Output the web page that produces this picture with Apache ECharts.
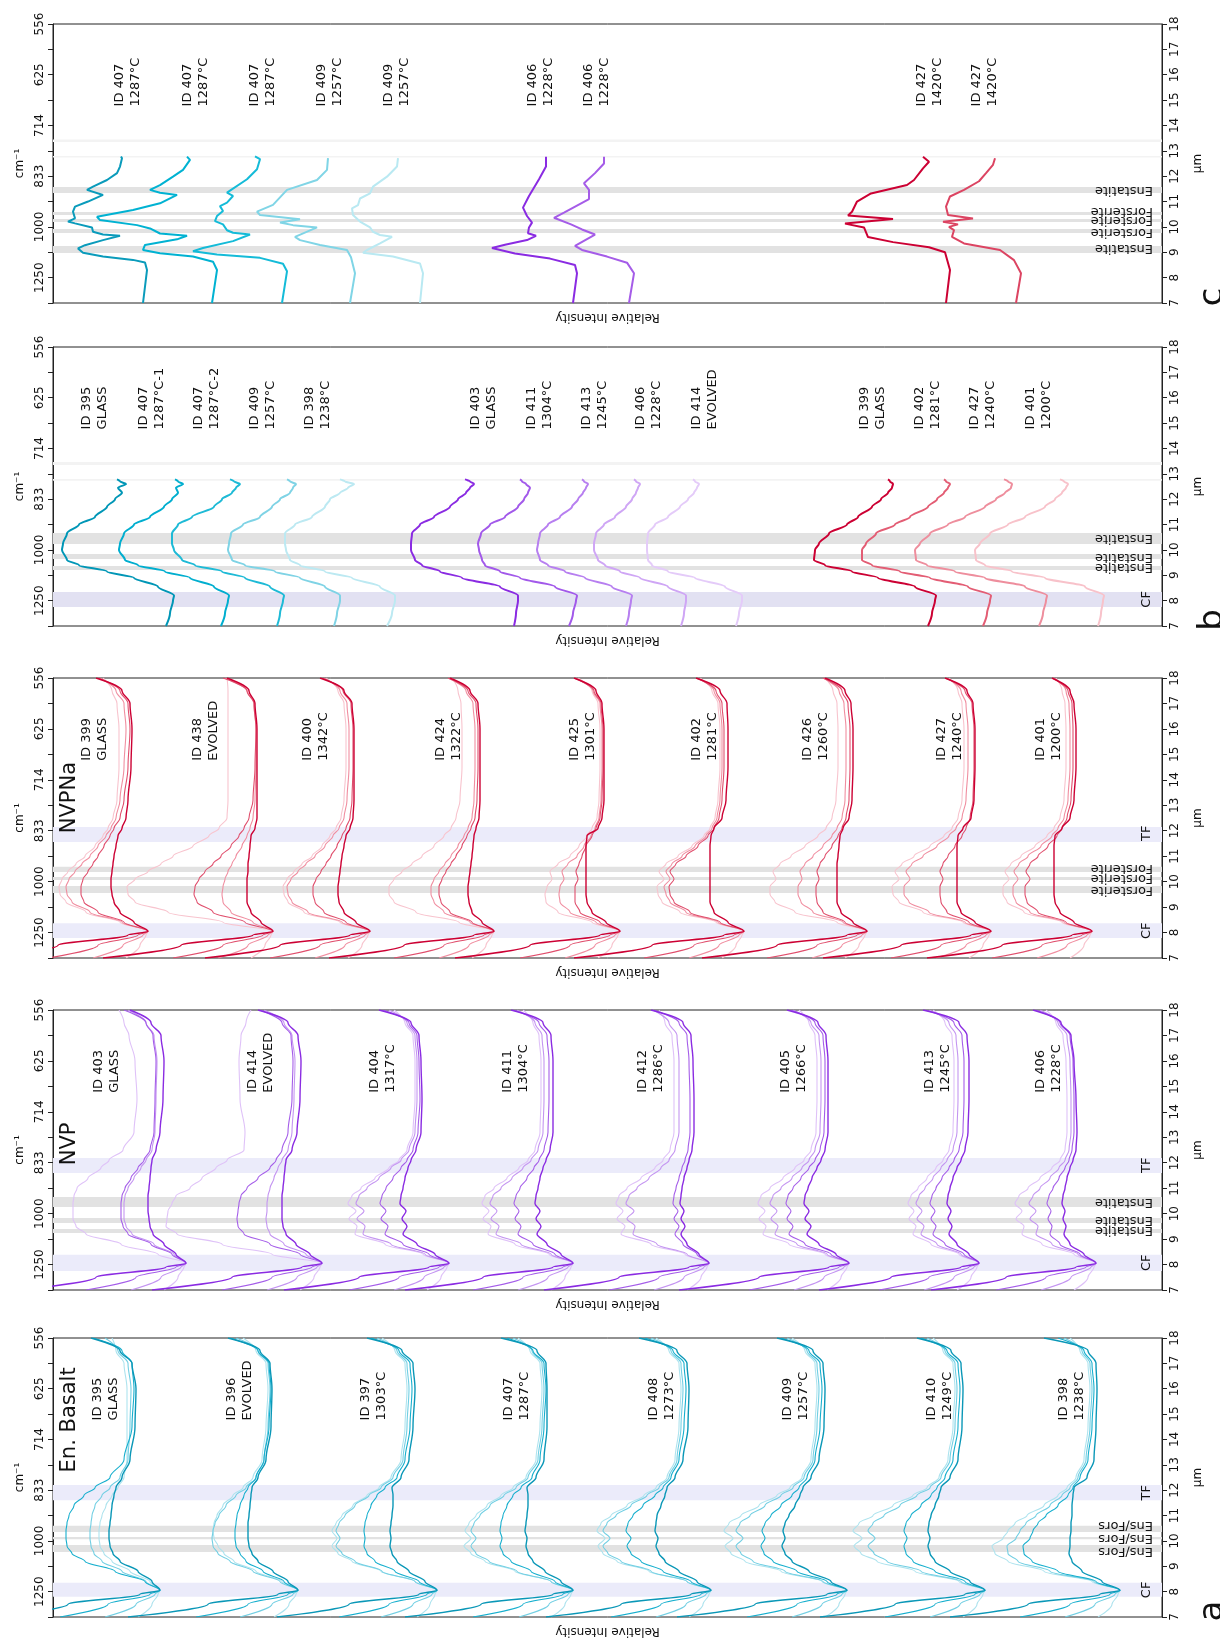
<!DOCTYPE html>
<html><head><meta charset="utf-8">
<script src="https://cdn.jsdelivr.net/npm/echarts@6.0.0/dist/echarts.min.js"></script>
<style>html,body{margin:0;padding:0;background:#fff}#chart{width:1220px;height:1641px}</style>
</head><body><div id="chart"></div>
<script>
// ---------- wavelength grids (µm) ----------
const WA = [7.0,7.5,7.9,8.05,8.4,8.8,9.2,9.5,9.8,10.1,10.4,10.7,11.0,11.4,11.8,12.1,12.5,13.2,14.5,16.0,17.0,17.5,18.0];
const WB = [7.0,7.5,8.0,8.2,8.55,8.9,9.15,9.4,9.6,10.0,10.25,10.65,11.0,11.3,11.7,12.0,12.25,12.45,12.6,12.7,12.78];
const CM_LABELS = {8:'1250',10:'1000',12:'833',14:'714',16:'625',18:'556'};

// ---------- panel a : En. Basalt (offsets from each group's CF peak; rows: dark, medium, light, lightest) ----------
const EN_CF = [107,245,384,520,658,794,932,1067];
const EN_IDS = [['ID 395','GLASS'],['ID 396','EVOLVED'],['ID 397','1303°C'],['ID 407','1287°C'],['ID 408','1273°C'],['ID 409','1257°C'],['ID 410','1249°C'],['ID 398','1238°C']];
const EN_LABEL_X = [53,187,321,464,609,743,887,1019];
const EN_395 = [[-165,-92,-20,0,-8,-22,-40,-47,-50,-51,-51,-50,-49,-48,-46,-44,-38,-30,-25,-24,-28,-40,-69],[-100,-52,-10,0,-15,-45,-75,-88,-93,-94,-94,-93,-91,-86,-76,-65,-50,-36,-28,-26,-28,-38,-67],[-55,-24,-5,0,-14,-38,-58,-66,-69,-70,-70,-69,-68,-65,-58,-50,-40,-32,-30,-29,-32,-42,-55],[-22,-8,-2,0,-10,-30,-48,-56,-60,-61,-61,-60,-58,-54,-48,-42,-36,-33,-33,-33,-36,-44,-48]];
const EN_396 = [[-170,-90,-20,0,-10,-25,-40,-46,-49,-50,-50,-50,-49,-48,-47,-46,-40,-32,-27,-26,-28,-38,-70],[-102,-50,-10,0,-14,-35,-52,-58,-62,-63,-63,-62,-61,-58,-54,-50,-42,-34,-29,-27,-29,-40,-68],[-58,-26,-5,0,-18,-45,-68,-80,-85,-86,-85,-83,-79,-72,-62,-52,-42,-34,-30,-28,-30,-40,-62],[-24,-9,-2,0,-16,-42,-64,-74,-80,-84,-85,-84,-81,-75,-65,-55,-45,-36,-32,-30,-32,-42,-55]];
const EN_397 = [[-160,-88,-18,0,-12,-28,-40,-45,-47,-46,-47,-46,-45,-44,-44,-45,-36,-28,-24,-22,-24,-35,-70],[-98,-48,-10,0,-18,-42,-62,-70,-73,-72,-73,-72,-70,-66,-60,-52,-40,-32,-27,-25,-27,-38,-66],[-56,-24,-5,0,-22,-55,-82,-95,-101,-97,-101,-98,-92,-82,-68,-56,-44,-34,-30,-28,-30,-40,-60],[-20,-7,-2,0,-22,-56,-85,-99,-105,-100,-105,-101,-95,-84,-70,-58,-46,-36,-32,-30,-32,-42,-55]];
const EN_407 = [[-168,-92,-20,0,-12,-28,-40,-45,-47,-46,-48,-47,-46,-45,-45,-46,-37,-29,-26,-26,-27,-36,-72],[-100,-50,-10,0,-18,-42,-62,-70,-73,-71,-73,-72,-70,-66,-60,-52,-41,-33,-29,-27,-29,-40,-66],[-54,-24,-5,0,-22,-56,-84,-97,-102,-97,-102,-99,-93,-83,-69,-57,-45,-35,-31,-29,-31,-41,-60],[-22,-8,-2,0,-22,-58,-88,-102,-109,-102,-108,-104,-97,-86,-72,-60,-47,-37,-33,-31,-33,-43,-55]];
const EN_408 = [[-165,-90,-20,0,-14,-32,-46,-52,-55,-53,-56,-55,-54,-50,-46,-44,-36,-28,-23,-22,-24,-34,-72],[-100,-50,-10,0,-20,-48,-70,-80,-84,-80,-85,-83,-78,-68,-56,-48,-40,-32,-27,-25,-27,-38,-66],[-55,-25,-5,0,-24,-60,-90,-103,-108,-101,-108,-104,-95,-80,-64,-52,-42,-34,-30,-28,-30,-40,-60],[-22,-8,-2,0,-24,-62,-94,-108,-113,-106,-114,-110,-100,-84,-67,-55,-44,-36,-32,-30,-32,-42,-55]];
const EN_409 = [[-170,-92,-20,0,-16,-38,-55,-62,-65,-62,-64,-62,-58,-52,-47,-44,-36,-28,-23,-22,-24,-34,-70],[-100,-50,-10,0,-20,-50,-74,-83,-86,-82,-85,-82,-76,-66,-55,-48,-40,-32,-27,-25,-27,-38,-66],[-55,-25,-5,0,-24,-62,-94,-106,-111,-104,-111,-107,-97,-82,-66,-54,-43,-34,-30,-28,-30,-40,-60],[-22,-8,-2,0,-25,-66,-102,-116,-122,-114,-123,-118,-106,-88,-70,-57,-45,-36,-32,-30,-32,-42,-55]];
const EN_410 = [[-165,-90,-20,0,-15,-35,-50,-55,-57,-55,-57,-56,-54,-50,-46,-44,-35,-27,-23,-22,-24,-34,-68],[-100,-50,-10,0,-20,-50,-72,-79,-81,-78,-81,-79,-74,-64,-54,-48,-40,-32,-27,-25,-27,-38,-64],[-55,-25,-5,0,-24,-64,-98,-111,-117,-110,-117,-112,-101,-85,-68,-55,-44,-35,-30,-28,-30,-40,-58],[-22,-8,-2,0,-26,-70,-108,-124,-131,-123,-132,-126,-112,-92,-72,-58,-46,-37,-32,-30,-32,-42,-52]];
const EN_398 = [[-170,-92,-20,0,-18,-38,-48,-51,-50,-50,-49,-49,-48,-48,-47,-46,-33,-26,-24,-23,-24,-32,-76],[-100,-50,-10,0,-24,-62,-88,-96,-97,-90,-87,-82,-74,-62,-52,-47,-40,-32,-28,-26,-28,-36,-62],[-55,-25,-5,0,-26,-70,-102,-112,-113,-104,-100,-94,-84,-70,-58,-50,-42,-34,-30,-28,-30,-38,-56],[-22,-8,-2,0,-28,-76,-112,-125,-128,-117,-112,-105,-93,-76,-62,-53,-44,-36,-32,-30,-32,-40,-50]];

// ---------- panel a : NVP ----------
const NVP_CF = [133,269,396,520,656,796,926,1043];
const NVP_IDS = [['ID 403','GLASS'],['ID 414','EVOLVED'],['ID 404','1317°C'],['ID 411','1304°C'],['ID 412','1286°C'],['ID 405','1266°C'],['ID 413','1245°C'],['ID 406','1228°C']];
const NVP_LABEL_X = [54,208,330,463,598,741,885,996];
const NVP_403 = [[-165,-90,-20,0,-10,-22,-33,-36,-37,-38,-38,-38,-37,-36,-35,-34,-30,-26,-23,-22,-25,-35,-56],[-100,-50,-10,0,-14,-35,-58,-63,-65,-65,-65,-64,-61,-55,-48,-42,-36,-32,-31,-30,-33,-40,-62],[-55,-25,-5,0,-12,-32,-54,-60,-62,-62,-62,-61,-58,-52,-45,-40,-34,-31,-30,-29,-32,-40,-58],[-22,-8,-2,0,-28,-65,-100,-110,-113,-113,-113,-112,-109,-98,-85,-77,-63,-52,-49,-51,-57,-62,-67]];
const NVP_414 = [[-170,-90,-20,0,-12,-26,-36,-39,-40,-40,-40,-40,-39,-38,-37,-36,-30,-25,-22,-21,-24,-34,-64],[-100,-50,-10,0,-22,-52,-78,-84,-85,-84,-83,-81,-75,-64,-52,-46,-40,-34,-30,-29,-31,-40,-62],[-55,-25,-5,0,-16,-38,-52,-55,-56,-55,-55,-54,-52,-48,-44,-40,-34,-30,-28,-27,-30,-38,-58],[-22,-8,-2,0,-50,-100,-145,-156,-155,-154,-150,-146,-132,-120,-106,-95,-78,-77,-82,-83,-81,-76,-71]];
const NVP_404 = [[-165,-90,-20,0,-14,-32,-46,-42,-47,-43,-49,-48,-46,-44,-41,-38,-33,-28,-27,-28,-30,-38,-70],[-100,-50,-10,0,-20,-46,-64,-61,-68,-63,-69,-67,-63,-56,-48,-42,-36,-31,-29,-30,-32,-40,-66],[-55,-25,-5,0,-24,-58,-86,-84,-92,-85,-93,-90,-82,-70,-58,-48,-40,-34,-32,-32,-34,-42,-60],[-22,-8,-2,0,-26,-64,-94,-92,-100,-93,-101,-97,-88,-74,-60,-50,-42,-36,-34,-34,-36,-44,-55]];
const NVP_411 = [[-168,-90,-20,0,-12,-26,-36,-32,-37,-33,-38,-37,-35,-33,-30,-27,-23,-20,-20,-20,-22,-30,-62],[-100,-50,-10,0,-18,-40,-55,-52,-58,-54,-59,-57,-53,-46,-39,-34,-29,-25,-24,-24,-26,-34,-60],[-55,-25,-5,0,-22,-52,-77,-74,-82,-76,-83,-80,-72,-61,-50,-42,-35,-30,-29,-29,-31,-38,-56],[-22,-8,-2,0,-24,-58,-85,-82,-90,-84,-91,-88,-79,-66,-54,-45,-38,-33,-32,-32,-34,-40,-50]];
const NVP_412 = [[-165,-90,-20,0,-10,-22,-28,-24,-28,-25,-29,-28,-27,-25,-22,-20,-17,-15,-15,-16,-18,-26,-58],[-100,-50,-10,0,-12,-26,-34,-30,-35,-31,-36,-35,-33,-30,-27,-24,-21,-19,-19,-20,-22,-30,-56],[-55,-25,-5,0,-22,-52,-76,-74,-82,-75,-83,-80,-72,-60,-48,-40,-34,-30,-30,-30,-32,-40,-56],[-22,-8,-2,0,-24,-58,-88,-84,-92,-86,-93,-90,-82,-68,-54,-46,-39,-35,-35,-35,-37,-44,-50]];
const NVP_405 = [[-170,-90,-20,0,-13,-30,-42,-38,-44,-40,-45,-44,-41,-37,-32,-28,-24,-21,-21,-21,-23,-31,-62],[-100,-50,-10,0,-18,-44,-60,-56,-62,-58,-63,-61,-56,-48,-40,-34,-29,-25,-24,-24,-26,-34,-58],[-55,-25,-5,0,-22,-52,-74,-71,-78,-72,-79,-76,-68,-57,-47,-40,-34,-29,-28,-28,-30,-38,-56],[-22,-8,-2,0,-24,-60,-86,-83,-90,-84,-91,-88,-79,-66,-54,-45,-38,-33,-32,-32,-34,-40,-50]];
const NVP_413 = [[-160,-88,-18,0,-10,-22,-30,-27,-31,-28,-32,-31,-29,-26,-22,-18,-14,-11,-10,-10,-12,-20,-56],[-100,-50,-10,0,-15,-34,-46,-43,-48,-44,-49,-47,-43,-37,-30,-25,-20,-16,-15,-15,-17,-25,-54],[-55,-25,-5,0,-18,-42,-58,-55,-62,-57,-63,-60,-54,-46,-38,-32,-26,-22,-21,-21,-23,-30,-50],[-22,-8,-2,0,-20,-48,-66,-63,-70,-65,-71,-68,-61,-52,-43,-36,-30,-26,-25,-25,-27,-34,-46]];
const NVP_406 = [[-165,-90,-20,0,-12,-26,-32,-30,-33,-31,-34,-33,-31,-29,-26,-23,-20,-19,-20,-22,-25,-35,-63],[-100,-50,-10,0,-16,-36,-46,-44,-48,-45,-49,-47,-43,-37,-31,-27,-24,-22,-22,-23,-26,-36,-60],[-55,-25,-5,0,-18,-44,-60,-58,-66,-60,-67,-63,-56,-46,-37,-31,-27,-25,-25,-26,-29,-38,-56],[-22,-8,-2,0,-22,-54,-74,-72,-80,-74,-81,-77,-68,-56,-44,-36,-31,-29,-29,-30,-33,-40,-50]];

// ---------- panel a : NVPNa ----------
const NA_CF = [95,220,317,441,567,691,814,938,1039];
const NA_IDS = [['ID 399','GLASS'],['ID 438','EVOLVED'],['ID 400','1342°C'],['ID 424','1322°C'],['ID 425','1301°C'],['ID 402','1281°C'],['ID 426','1260°C'],['ID 427','1240°C'],['ID 401','1200°C']];
const NA_LABEL_X = [42,153,263,396,530,652,763,897,996];
const NA_399 = [[-165,-90,-20,0,-14,-28,-34,-36,-37,-37,-36,-35,-34,-32,-30,-26,-22,-20,-17,-16,-18,-26,-52],[-100,-50,-10,0,-24,-50,-64,-67,-67,-65,-60,-55,-50,-44,-38,-34,-28,-24,-20,-18,-20,-28,-50],[-55,-25,-5,0,-26,-58,-76,-81,-82,-79,-73,-66,-58,-50,-42,-37,-32,-28,-24,-22,-24,-32,-48],[-22,-8,-2,0,-28,-62,-82,-88,-89,-86,-80,-72,-63,-53,-45,-40,-35,-31,-29,-29,-31,-36,-45]];
const NA_438 = [[-170,-92,-20,0,-12,-22,-26,-26,-26,-26,-25,-25,-24,-23,-22,-18,-16,-16,-16,-16,-18,-24,-46],[-100,-50,-10,0,-28,-60,-76,-79,-78,-74,-68,-60,-52,-42,-34,-29,-24,-20,-18,-17,-19,-26,-50],[-55,-25,-5,0,-20,-42,-50,-51,-50,-48,-45,-41,-37,-31,-26,-23,-20,-18,-17,-17,-19,-26,-48],[-22,-8,-2,0,-50,-105,-138,-145,-146,-138,-125,-112,-100,-80,-64,-54,-46,-45,-45,-45,-45,-45,-46]];
const NA_400 = [[-165,-90,-20,0,-14,-26,-31,-32,-32,-31,-30,-29,-28,-26,-24,-20,-17,-16,-16,-16,-18,-26,-50],[-100,-50,-10,0,-24,-46,-55,-57,-57,-54,-49,-44,-39,-33,-28,-24,-20,-18,-17,-17,-19,-27,-48],[-55,-25,-5,0,-28,-62,-78,-82,-83,-79,-72,-64,-55,-45,-37,-31,-26,-23,-21,-21,-23,-30,-46],[-22,-8,-2,0,-30,-66,-82,-86,-87,-83,-76,-68,-58,-48,-40,-34,-29,-26,-24,-24,-26,-32,-44]];
const NA_424 = [[-165,-90,-20,0,-12,-22,-25,-26,-26,-25,-24,-23,-22,-21,-20,-18,-15,-14,-14,-14,-16,-24,-44],[-100,-50,-10,0,-22,-44,-53,-55,-55,-52,-48,-43,-38,-32,-27,-23,-19,-17,-16,-16,-18,-26,-46],[-55,-25,-5,0,-24,-50,-60,-63,-63,-60,-55,-49,-43,-36,-30,-26,-22,-20,-19,-19,-21,-28,-46],[-22,-8,-2,0,-35,-78,-100,-105,-105,-100,-92,-82,-72,-60,-50,-43,-38,-34,-32,-32,-33,-36,-42]];
const NA_425 = [[-165,-90,-20,0,-14,-28,-33,-34,-34,-34,-34,-34,-34,-34,-33,-22,-18,-16,-16,-16,-18,-24,-46],[-100,-50,-10,0,-20,-40,-45,-45,-45,-42,-44,-41,-38,-34,-28,-24,-20,-18,-17,-17,-19,-26,-46],[-55,-25,-5,0,-24,-50,-60,-61,-60,-56,-58,-52,-43,-36,-29,-25,-21,-19,-18,-18,-20,-27,-44],[-22,-8,-2,0,-28,-62,-74,-75,-73,-68,-70,-62,-50,-41,-33,-28,-23,-21,-20,-20,-22,-28,-42]];
const NA_402 = [[-170,-92,-20,0,-16,-30,-34,-34,-34,-34,-34,-34,-34,-34,-33,-30,-22,-18,-16,-16,-17,-24,-48],[-100,-50,-10,0,-24,-54,-70,-74,-75,-70,-74,-68,-58,-46,-36,-30,-25,-22,-20,-20,-22,-28,-48],[-55,-25,-5,0,-26,-58,-74,-78,-80,-74,-78,-72,-62,-49,-38,-32,-27,-24,-22,-22,-24,-30,-46],[-22,-8,-2,0,-28,-64,-82,-86,-87,-80,-85,-78,-66,-52,-40,-34,-29,-26,-24,-24,-26,-32,-44]];
const NA_426 = [[-165,-90,-20,0,-14,-26,-30,-30,-30,-30,-30,-30,-29,-28,-27,-24,-18,-15,-14,-14,-16,-22,-42],[-100,-50,-10,0,-22,-44,-50,-51,-51,-48,-50,-47,-42,-35,-29,-25,-21,-18,-17,-17,-19,-25,-44],[-55,-25,-5,0,-24,-54,-66,-69,-69,-65,-67,-62,-54,-44,-35,-30,-25,-22,-21,-21,-23,-28,-44],[-22,-8,-2,0,-30,-72,-92,-97,-97,-91,-94,-87,-76,-62,-49,-41,-35,-31,-29,-29,-30,-34,-42]];
const NA_427 = [[-168,-90,-20,0,-16,-30,-34,-34,-34,-34,-34,-34,-34,-34,-33,-28,-20,-17,-16,-16,-18,-24,-46],[-100,-50,-10,0,-22,-44,-50,-51,-51,-48,-51,-48,-43,-36,-29,-25,-21,-18,-17,-17,-19,-26,-46],[-55,-25,-5,0,-26,-62,-82,-87,-87,-81,-85,-79,-68,-54,-42,-35,-29,-25,-23,-23,-25,-30,-44],[-22,-8,-2,0,-28,-68,-92,-98,-99,-92,-96,-89,-77,-61,-47,-39,-33,-29,-27,-27,-29,-33,-42]];
const NA_401 = [[-165,-90,-20,0,-18,-32,-37,-38,-38,-38,-38,-38,-38,-38,-37,-30,-22,-18,-16,-16,-18,-22,-40],[-100,-50,-10,0,-26,-54,-65,-67,-67,-62,-66,-62,-54,-44,-35,-30,-25,-21,-19,-19,-20,-24,-40],[-55,-25,-5,0,-28,-62,-76,-79,-79,-74,-78,-73,-64,-51,-40,-34,-28,-24,-22,-22,-23,-26,-38],[-22,-8,-2,0,-30,-68,-85,-89,-89,-83,-87,-81,-71,-57,-45,-38,-32,-28,-26,-26,-27,-30,-36]];

// ---------- panel b (absolute relative-intensity positions at WB) ----------
const B_IDS = [['ID 395','GLASS'],['ID 407','1287°C-1'],['ID 407','1287°C-2'],['ID 409','1257°C'],['ID 398','1238°C'],['ID 403','GLASS'],['ID 411','1304°C'],['ID 413','1245°C'],['ID 406','1228°C'],['ID 414','EVOLVED'],['ID 399','GLASS'],['ID 402','1281°C'],['ID 427','1240°C'],['ID 401','1200°C']];
const B_LABEL_X = [42,99,154,210,265,431,487,542,596,652,820,875,930,986];
const B_395 = [113,117,120,121,105,81,54,26,14,9,10,14,26,42,54,62,69,65,73,67,64];
const B_407_1 = [168,172,175,176,161,137,112,85,72,66,67,71,81,97,111,119,125,123,130,125,122];
const B_407_2 = [224,227,230,231,217,192,169,142,129,121,119,119,125,139,161,169,179,183,187,181,177];
const B_409 = [281,284,287,287,272,247,222,192,179,175,176,178,190,207,219,227,237,240,243,237,234];
const B_398 = [334,339,342,342,327,299,272,247,237,233,232,232,242,259,272,277,287,295,301,292,287];
const B_403 = [461,463,465,465,447,409,387,369,362,358,358,359,367,381,397,405,413,417,421,417,412];
const B_411 = [516,520,523,524,502,467,447,432,429,426,425,428,437,452,465,471,475,477,473,469,467];
const B_413 = [573,576,578,579,559,532,512,495,487,484,485,487,495,507,519,525,530,533,535,531,529];
const B_406 = [628,631,633,633,615,587,567,552,545,541,541,543,551,562,573,579,583,585,587,583,581];
const B_414 = [683,686,689,689,672,642,615,599,595,594,594,595,602,615,627,635,641,644,646,642,640];
const B_399 = [875,879,882,883,862,825,799,772,761,762,766,776,794,805,819,828,835,839,840,837,835];
const B_402 = [930,934,937,938,915,877,847,819,809,809,813,823,842,857,875,884,891,895,897,893,891];
const B_427 = [986,990,993,994,972,932,902,874,863,862,867,877,895,912,932,943,952,958,959,955,951];
const B_401 = [1045,1048,1050,1051,1032,992,959,932,923,922,927,937,955,972,992,1002,1009,1013,1015,1011,1007];

// ---------- panel c ([µm, relative-intensity position]) ----------
const C_IDS = [['ID 407','1287°C'],['ID 407','1287°C'],['ID 407','1287°C'],['ID 409','1257°C'],['ID 409','1257°C'],['ID 406','1228°C'],['ID 406','1228°C'],['ID 427','1420°C'],['ID 427','1420°C']];
const C_LABEL_X = [75,143,210,277,344,488,544,877,932];
const C_407A = [[7.0,90],[8.3,94],[8.6,92],[8.7,80],[8.83,50],[8.98,30],[9.15,25],[9.28,32],[9.48,50],[9.65,67],[9.7,50],[9.81,40],[9.98,39],[10.14,22],[10.21,15],[10.34,22],[10.6,20],[10.8,22],[11.0,35],[11.26,50],[11.46,34],[11.59,40],[11.85,54],[12.12,64],[12.38,67],[12.71,69],[12.78,68]];
const C_407B = [[7.0,159],[8.3,164],[8.63,160],[8.83,140],[8.96,107],[9.09,90],[9.29,92],[9.51,124],[9.65,134],[9.74,107],[9.94,97],[10.07,84],[10.27,47],[10.4,44],[10.67,80],[10.93,107],[11.26,124],[11.35,107],[11.46,97],[11.65,107],[11.98,120],[12.25,130],[12.64,137],[12.77,134]];
const C_407C = [[7.0,229],[8.25,234],[8.55,230],[8.78,207],[8.91,164],[9.04,140],[9.17,150],[9.44,180],[9.7,197],[9.77,180],[9.87,174],[10.1,170],[10.23,162],[10.43,164],[10.63,170],[10.82,167],[10.96,174],[11.22,180],[11.35,174],[11.88,194],[12.27,204],[12.67,207],[12.78,202]];
const C_409A = [[7.0,297],[8.17,302],[8.8,298],[9.09,294],[9.29,267],[9.48,247],[9.61,242],[9.98,264],[10.07,240],[10.17,227],[10.3,247],[10.47,207],[10.6,204],[10.87,220],[11.46,234],[11.85,264],[12.25,274],[12.71,275]];
const C_409B = [[7.0,367],[8.17,370],[8.56,367],[8.83,340],[8.98,310],[9.09,314],[9.35,327],[9.61,339],[9.68,327],[9.81,320],[9.98,317],[10.21,307],[10.47,300],[10.73,299],[10.86,305],[11.12,307],[11.32,317],[11.59,320],[11.98,334],[12.38,344],[12.71,345]];
const C_406A = [[7.0,520],[8.17,524],[8.5,522],[8.75,497],[8.95,462],[9.17,439],[9.3,452],[9.48,474],[9.65,483],[9.75,475],[9.98,476],[10.17,479],[10.43,474],[10.76,470],[11.22,476],[11.88,486],[12.38,493],[12.77,493]];
const C_406B = [[7.0,576],[8.17,581],[8.59,574],[8.83,554],[9.09,529],[9.25,522],[9.7,542],[9.9,529],[10.1,518],[10.36,501],[10.56,511],[11.1,536],[11.46,536],[11.72,531],[12.12,542],[12.5,551],[12.77,551]];
const C_427A = [[7.0,893],[8.3,897],[9.0,892],[9.2,876],[9.4,840],[9.6,815],[9.98,811],[10.13,792],[10.31,840],[10.45,795],[10.6,799],[11.0,804],[11.32,818],[11.65,854],[11.85,861],[12.31,870],[12.57,876],[12.77,870]];
const C_427B = [[7.0,963],[8.17,968],[8.69,961],[9.09,947],[9.35,911],[9.61,899],[9.87,901],[10.0,896],[10.1,905],[10.2,890],[10.33,920],[10.47,895],[10.8,893],[11.2,897],[11.46,911],[11.8,926],[12.12,933],[12.45,940],[12.71,942]];

// ---------- bands [from µm, to µm, kind] and their labels ----------
const EN_BANDS = [[7.8,8.35,'lav'],[11.6,12.2,'lav'],[9.56,9.84,'grey'],[10.07,10.15,'grey'],[10.35,10.6,'grey']];
const NVP_BANDS = [[7.75,8.38,'lav'],[11.6,12.19,'lav'],[9.24,9.4,'grey'],[9.63,9.83,'grey'],[10.26,10.65,'grey']];
const NA_BANDS = [[7.79,8.37,'lav'],[11.56,12.15,'lav'],[9.55,9.83,'grey'],[10.06,10.18,'grey'],[10.38,10.58,'grey']];
const B_BANDS = [[7.75,8.34,'lav2'],[9.21,9.37,'grey'],[9.64,9.84,'grey'],[10.23,10.67,'grey'],[12.73,12.8,'faint'],[13.35,13.47,'faint']];
const C_BANDS = [[8.97,9.25,'grey'],[9.76,9.92,'grey'],[10.19,10.31,'grey'],[10.47,10.59,'grey'],[11.34,11.57,'grey'],[12.74,12.8,'faint'],[13.35,13.45,'faint']];
const EN_BL = [['CF',8.07,'v'],['TF',11.9,'v'],['Ens/Fors',9.58,'h'],['Ens/Fors',10.1,'h'],['Ens/Fors',10.62,'h']];
const NVP_BL = [['CF',8.07,'v'],['TF',11.9,'v'],['Enstatite',9.33,'h'],['Enstatite',9.74,'h'],['Enstatite',10.46,'h']];
const NA_BL = [['CF',8.07,'v'],['TF',11.9,'v'],['Forsterite',9.67,'h'],['Forsterite',10.14,'h'],['Forsterite',10.54,'h']];
const B_BL = [['CF',8.05,'v'],['Enstatite',9.3,'h'],['Enstatite',9.72,'h'],['Enstatite',10.47,'h']];
const C_BL = [['Enstatite',9.15,'h'],['Forsterite',9.8,'h'],['Forsterite',10.27,'h'],['Forsterite',10.63,'h'],['Enstatite',11.46,'h']];

// ---------- styling ----------
const TEAL = ['#0a97b7','#17afce','#72cfe3','#ade3ee'];
const PURPLE = ['#8a2be2','#a55ee9','#c495f1','#dfc2f8'];
const RED = ['#cc0033','#e04f6d','#f08ea0','#f8c4ce'];
const B_COLORS = ['#0096b6','#00aecf','#1ebad6','#7fd3e5','#bce9f2','#8a2be2','#a259ea','#b77ff0','#cfa6f5','#e4cbf9','#cc0033','#e35d74','#ee8e9d','#f8c2ca'];
const C_COLORS = ['#0a9bbb','#00b2d2','#14bbd8','#80d5e6','#b9e9f2','#8a2be2','#a55ce8','#cc0033','#dc4462'];
const BAND_COLORS = {lav:'#ebebfa', lav2:'#e2e1f2', grey:'#e2e2e2', faint:'#f3f3f3'};
const FONT = '"DejaVu Sans", "Liberation Sans", sans-serif';

const PANEL_TOPS = [24, 347, 678, 1010, 1338];
const PANEL_H = [279, 279, 280, 280, 279];
const PLOT_LEFT = 53, PLOT_W = 1109;

const chart = echarts.init(document.getElementById('chart'), null, {renderer:'canvas', width:1220, height:1641});
const grids = [], xAxes = [], yAxes = [], series = [];

PANEL_TOPS.forEach((t, i) => {
  grids.push({left:PLOT_LEFT, width:PLOT_W, top:t, height:PANEL_H[i], show:true, borderColor:'#222', borderWidth:1, backgroundColor:'rgba(0,0,0,0)', containLabel:false, outerBoundsMode:'none'});
  xAxes.push({type:'value', gridIndex:i, min:0, max:PLOT_W, show:false});
  const common = {type:'value', gridIndex:i, min:7, max:18, interval:1, splitLine:{show:false},
    axisLine:{show:true, lineStyle:{color:'#222', width:1}},
    axisTick:{show:true, inside:false, length:5, lineStyle:{color:'#222'}},
    nameLocation:'middle', nameRotate:90, nameTextStyle:{fontSize:12, color:'#111', fontFamily:FONT}};
  yAxes.push(Object.assign({}, common, {position:'left', name:'cm⁻¹', nameGap:27,
    axisLabel:{rotate:90, fontSize:12, color:'#111', margin:7, fontFamily:FONT, formatter:v => CM_LABELS[v] || ''}}));
  yAxes.push(Object.assign({}, common, {position:'right', name:'µm', nameGap:30,
    axisLabel:{rotate:90, fontSize:12, color:'#111', margin:7, fontFamily:FONT, formatter:v => String(v)}}));
});

function addLine(gi, data, color, width, smooth) {
  series.push({type:'line', xAxisIndex:gi, yAxisIndex:2*gi, data:data, symbol:'none', showSymbol:false,
    smooth:smooth, smoothMonotone: smooth ? 'y' : undefined, clip:true, silent:true, z:3,
    lineStyle:{color:color, width:width}});
}
function addBands(gi, bands) {
  series.push({type:'line', xAxisIndex:gi, yAxisIndex:2*gi, data:[[0,7]], symbol:'none', silent:true, z:1,
    lineStyle:{opacity:0},
    markArea:{silent:true, label:{show:false},
      data: bands.map(b => [{yAxis:b[0], itemStyle:{color:BAND_COLORS[b[2]], borderWidth:0}}, {yAxis:b[1]}])}});
}
function addGroups(gi, groups, anchors, colors) {
  groups.forEach((g, k) => {
    for (let j = 3; j >= 0; j--) {
      addLine(gi, WA.map((w, n) => [anchors[k] + g[j][n], w]), colors[j], j === 0 ? 1.4 : 1.1, 0.35);
    }
  });
}

// grid 0 = c, 1 = b, 2 = NVPNa, 3 = NVP, 4 = En. Basalt
addBands(0, C_BANDS); addBands(1, B_BANDS); addBands(2, NA_BANDS); addBands(3, NVP_BANDS); addBands(4, EN_BANDS);

[C_407A, C_407B, C_407C, C_409A, C_409B, C_406A, C_406B, C_427A, C_427B].forEach((arr, k) => {
  addLine(0, arr.map(p => [p[1], p[0]]), C_COLORS[k], 2, false);
});
[B_395, B_407_1, B_407_2, B_409, B_398, B_403, B_411, B_413, B_406, B_414, B_399, B_402, B_427, B_401].forEach((arr, k) => {
  addLine(1, WB.map((w, n) => [arr[n], w]), B_COLORS[k], 2, 0.3);
});
addGroups(2, [NA_399, NA_438, NA_400, NA_424, NA_425, NA_402, NA_426, NA_427, NA_401], NA_CF, RED);
addGroups(3, [NVP_403, NVP_414, NVP_404, NVP_411, NVP_412, NVP_405, NVP_413, NVP_406], NVP_CF, PURPLE);
addGroups(4, [EN_395, EN_396, EN_397, EN_407, EN_408, EN_409, EN_410, EN_398], EN_CF, TEAL);

chart.setOption({animation:false, backgroundColor:'#ffffff', textStyle:{fontFamily:FONT},
  grid:grids, xAxis:xAxes, yAxis:yAxes, series:series});

// ---------- text annotations placed through the axes' scales ----------
const G = [];
function px(gi, x, y) { return chart.convertToPixel({xAxisIndex:gi, yAxisIndex:2*gi}, [x, y]); }
function txt(gi, x, y, text, o) {
  const p = px(gi, x, y);
  G.push({type:'text', x:p[0] + (o.dx || 0), y:p[1] + (o.dy || 0), rotation:o.rot || 0, silent:true, z:50,
    style:{text:text, fill:'#111', font:o.font, align:o.align, verticalAlign:o.va, lineHeight:o.lh || 15}});
}
const ID_FONT = '13px ' + FONT;
function idLabels(gi, ids, xs) {
  ids.forEach((l, k) => txt(gi, xs[k], 14.75, l.join('\n'), {rot:Math.PI/2, font:ID_FONT, align:'left', va:'middle', lh:16}));
}
function bandLabels(gi, bl) {
  bl.forEach(b => {
    if (b[2] === 'v') txt(gi, 1094, b[1], b[0], {rot:Math.PI/2, font:'13px ' + FONT, align:'center', va:'middle'});
    else txt(gi, 1100, b[1], b[0], {rot:Math.PI, font:'13px ' + FONT, align:'left', va:'middle'});
  });
}
idLabels(0, C_IDS, C_LABEL_X); idLabels(1, B_IDS, B_LABEL_X); idLabels(2, NA_IDS, NA_LABEL_X);
idLabels(3, NVP_IDS, NVP_LABEL_X); idLabels(4, EN_IDS, EN_LABEL_X);
bandLabels(0, C_BL); bandLabels(1, B_BL); bandLabels(2, NA_BL); bandLabels(3, NVP_BL); bandLabels(4, EN_BL);

const TITLES = [[2,'NVPNa',11.9],[3,'NVP',11.9],[4,'En. Basalt',12.7]];
TITLES.forEach(t => txt(t[0], 17, t[2], t[1], {rot:Math.PI/2, font:'21px ' + FONT, align:'left', va:'middle'}));
for (let gi = 0; gi < 5; gi++) {
  txt(gi, PLOT_W / 2, 7, 'Relative Intensity', {rot:Math.PI, font:'12px ' + FONT, align:'center', va:'middle', dy:14});
}
[[0,'c'],[1,'b'],[4,'a']].forEach(l => txt(l[0], 1160, 7, l[1], {rot:Math.PI/2, font:'34px ' + FONT, align:'center', va:'middle', dy:-6}));

chart.setOption({graphic:G});
</script></body></html>
